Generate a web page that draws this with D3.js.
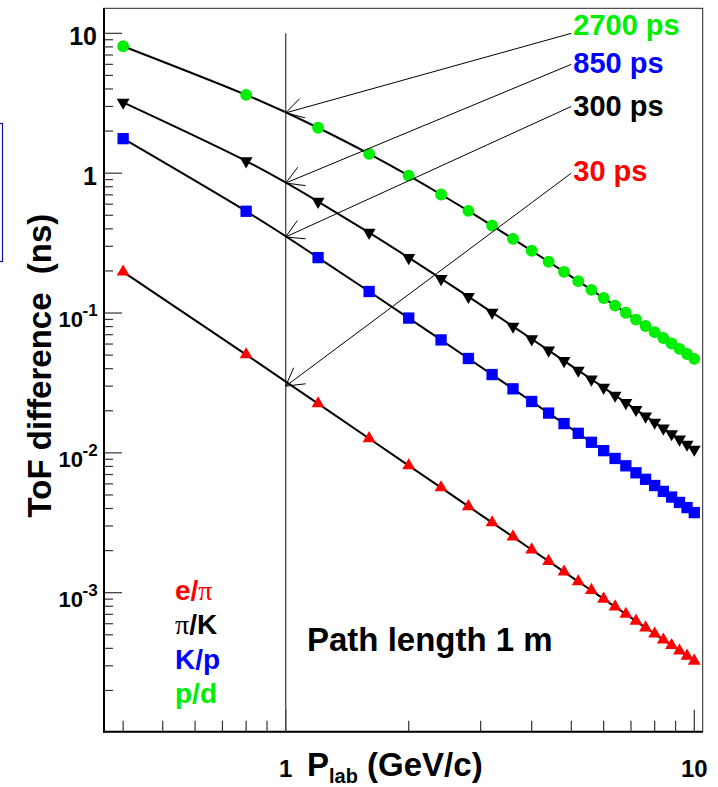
<!DOCTYPE html>
<html>
<head>
<meta charset="utf-8">
<style>
body { margin: 0; background: #fff; }
svg { display: block; font-family: "Liberation Sans", Arial, Helvetica, sans-serif; font-weight: bold; }
</style>
<script src="https://cdn.jsdelivr.net/npm/d3@7/dist/d3.min.js"></script>
</head>
<body>
<script>
// momentum points (GeV/c)
var momentum = [0.4, 0.8, 1.2, 1.6, 2.0, 2.4, 2.8, 3.2, 3.6, 4.0, 4.4, 4.8, 5.2,
                5.6, 6.0, 6.4, 6.8, 7.2, 7.6, 8.0, 8.4, 8.8, 9.2, 9.6, 10.0];

// ToF difference (ns)
var tofRed = [0.197, 0.0504, 0.0225, 0.01267, 0.00811, 0.00564, 0.00414, 0.00317, 0.00251,
              0.00203, 0.00168, 0.00141, 0.00120, 0.00104, 0.000902, 0.000793, 0.000703,
              0.000627, 0.000562, 0.000508, 0.000460, 0.000420, 0.000384, 0.000353, 0.000325];
var tofBlue = [1.766, 0.534, 0.249, 0.1425, 0.0920, 0.0642, 0.0473, 0.0363, 0.0287, 0.0233,
               0.01925, 0.01619, 0.0138, 0.0119, 0.01037, 0.00912, 0.00808, 0.00720, 0.00647,
               0.00584, 0.00530, 0.00483, 0.00442, 0.00406, 0.00374];
var tofBlack = [3.207, 1.2215, 0.627, 0.376, 0.2487, 0.176, 0.1309, 0.1010, 0.0802, 0.0652,
                0.0541, 0.0455, 0.0389, 0.0336, 0.0293, 0.02575, 0.02282, 0.02037, 0.01829,
                0.01652, 0.01499, 0.01366, 0.01250, 0.01149, 0.01059];
var tofGreen = [8.09, 3.63, 2.112, 1.375, 0.960, 0.704, 0.537, 0.4215, 0.339, 0.2786, 0.2327,
                0.1971, 0.1690, 0.1465, 0.1281, 0.1130, 0.1004, 0.0898, 0.0807, 0.0730, 0.0663,
                0.0605, 0.0554, 0.0509, 0.0470];

// arrows: text, tail at p=5, tip at p=1
var arrowLabels = ["2700 ps", "850 ps", "300 ps", "30 ps"];
var arrowTail = [10, 6, 3, 1];
var arrowTip = [2.7, 0.85, 0.35, 0.03];

var legendLabels = ["e/π", "π/K", "K/p", "p/d"];

var yTickLabels = [
  {v: 10, base: "10", exp: null},
  {v: 1, base: "1", exp: null},
  {v: 0.1, base: "10", exp: "-1"},
  {v: 0.01, base: "10", exp: "-2"},
  {v: 0.001, base: "10", exp: "-3"}
];
var xTickLabels = [{v: 1, t: "1"}, {v: 10, t: "10"}];

var W = 718, H = 787;
var padL = 104, padR = 702.7, padT = 8.3, padB = 731.7;

var svg = d3.select("body").append("svg")
  .attr("width", W).attr("height", H);

var x = d3.scaleLog().domain([0.3591, 10.486]).range([padL, padR]);
var y = d3.scaleLog().domain([1.014e-4, 15.1]).range([padB, padT]);

var RED = "#ff0000", BLUE = "#0000ff", GREEN = "#00ee00", BLACK = "#000000";

var series = [
  {values: tofRed, color: RED, marker: "up"},
  {values: tofBlue, color: BLUE, marker: "square"},
  {values: tofBlack, color: BLACK, marker: "down"},
  {values: tofGreen, color: GREEN, marker: "circle"}
];

// leftover legend box at the left edge
svg.append("rect")
  .attr("x", -20).attr("y", 123.5).attr("width", 22.5).attr("height", 138)
  .attr("fill", "none").attr("stroke", "#1010a0").attr("stroke-width", 1.2);

/* ---- ticks ---- */
var tickG = svg.append("g").attr("stroke", "#333").attr("stroke-width", 1.2);

var yTicks = [];
for (var k = -4; k <= 1; k++) {
  for (var m = 1; m <= 9; m++) {
    var v = m * Math.pow(10, k);
    if (v >= y.domain()[0] && v <= y.domain()[1]) yTicks.push({v: v, major: m === 1});
  }
}
tickG.selectAll("line.yt").data(yTicks).enter().append("line")
  .attr("class", "yt")
  .attr("x1", padL).attr("x2", function(d) { return padL + (d.major ? 18 : 9); })
  .attr("y1", function(d) { return y(d.v); }).attr("y2", function(d) { return y(d.v); });

var xTicks = [];
for (var k2 = -1; k2 <= 1; k2++) {
  for (var m2 = 1; m2 <= 9; m2++) {
    var v2 = m2 * Math.pow(10, k2);
    if (v2 >= x.domain()[0] && v2 <= x.domain()[1]) xTicks.push({v: v2, major: m2 === 1});
  }
}
tickG.selectAll("line.xt").data(xTicks).enter().append("line")
  .attr("class", "xt")
  .attr("x1", function(d) { return x(d.v); }).attr("x2", function(d) { return x(d.v); })
  .attr("y1", padB).attr("y2", function(d) { return padB - (d.major ? 22 : 11); });

/* ---- frame ---- */
svg.append("rect")
  .attr("x", padL).attr("y", padT).attr("width", padR - padL).attr("height", padB - padT)
  .attr("fill", "none").attr("stroke", "#222").attr("stroke-width", 1);
svg.append("line").attr("x1", padL).attr("x2", padL).attr("y1", padT).attr("y2", padB + 1)
  .attr("stroke", "#000").attr("stroke-width", 2);
svg.append("line").attr("x1", padL - 1).attr("x2", padR).attr("y1", padB).attr("y2", padB)
  .attr("stroke", "#000").attr("stroke-width", 2);

/* ---- tick labels ---- */
var yl = svg.append("g").attr("fill", "#000");
yTickLabels.forEach(function(t) {
  var ty = y(t.v);
  if (t.exp === null) {
    yl.append("text").attr("x", 97).attr("y", ty + 12)
      .attr("text-anchor", "end").attr("font-size", 25).text(t.base);
  } else {
    yl.append("text").attr("x", 83).attr("y", ty + 14)
      .attr("text-anchor", "end").attr("font-size", 22).text(t.base);
    yl.append("text").attr("x", 82.5).attr("y", ty + 3)
      .attr("text-anchor", "start").attr("font-size", 17).text(t.exp);
  }
});
xTickLabels.forEach(function(t) {
  svg.append("text").attr("x", x(t.v)).attr("y", 777)
    .attr("text-anchor", "middle").attr("font-size", 24).text(t.t);
});

/* ---- axis titles ---- */
svg.append("text")
  .attr("transform", "translate(51," + 365.5 + ") rotate(-90)")
  .attr("text-anchor", "middle").attr("font-size", 33)
  .attr("xml:space", "preserve")
  .text("ToF difference  (ns)");

var xt = svg.append("text").attr("x", 307).attr("y", 776).attr("font-size", 33);
xt.append("tspan").text("P");
xt.append("tspan").attr("font-size", 20).attr("dy", 7).text("lab");
xt.append("tspan").attr("dy", -7).text(" (GeV/c)");

/* ---- vertical line at 1 GeV/c ---- */
svg.append("line")
  .attr("x1", x(1)).attr("x2", x(1)).attr("y1", y(10)).attr("y2", padB)
  .attr("stroke", "#444").attr("stroke-width", 1.3);

/* ---- curves ---- */
var line = d3.line()
  .x(function(d) { return x(d[0]); })
  .y(function(d) { return y(d[1]); })
  .curve(d3.curveNatural);

series.forEach(function(s) {
  svg.append("path")
    .datum(momentum.map(function(p, i) { return [p, s.values[i]]; }))
    .attr("d", line)
    .attr("fill", "none").attr("stroke", "#000").attr("stroke-width", 2);
});

/* ---- markers ---- */
var symTri = d3.symbol().type(d3.symbolTriangle).size(72)();
var symSq = d3.symbol().type(d3.symbolSquare).size(128)();
var symCirc = d3.symbol().type(d3.symbolCircle).size(110)();

series.forEach(function(s) {
  svg.append("g").selectAll("path")
    .data(momentum.map(function(p, i) { return [p, s.values[i]]; }))
    .enter().append("path")
    .attr("d", s.marker === "square" ? symSq : (s.marker === "circle" ? symCirc : symTri))
    .attr("transform", function(d) {
      var t = "translate(" + x(d[0]) + "," + y(d[1]) + ")";
      return s.marker === "down" ? t + " rotate(180)" : t;
    })
    .attr("fill", s.color);
});

/* ---- arrows ---- */
var arrowColors = [GREEN, BLUE, BLACK, RED];
var labelDy = [1.7, 8.4, 10, 7.7];
var ag = svg.append("g").attr("stroke", "#000").attr("stroke-width", 1).attr("fill", "none");
arrowTip.forEach(function(tv, i) {
  var x0 = x(5), y0 = y(arrowTail[i]);
  var x1 = x(1), y1 = y(tv);
  ag.append("line").attr("x1", x0).attr("y1", y0).attr("x2", x1).attr("y2", y1);
  var ang = Math.atan2(y0 - y1, x0 - x1);
  [-Math.PI / 6, Math.PI / 6].forEach(function(da) {
    ag.append("line")
      .attr("x1", x1).attr("y1", y1)
      .attr("x2", x1 + 20 * Math.cos(ang + da))
      .attr("y2", y1 + 20 * Math.sin(ang + da));
  });
  svg.append("text")
    .attr("x", x0 + 2).attr("y", y0 + labelDy[i])
    .attr("font-size", 29).attr("fill", arrowColors[i])
    .text(arrowLabels[i]);
});

/* ---- legend ---- */
var legendColors = [RED, BLACK, BLUE, GREEN];
legendLabels.forEach(function(lbl, i) {
  var t = svg.append("text").attr("x", 175).attr("y", 600 + i * 34.4)
    .attr("font-size", 28).attr("fill", legendColors[i]);
  lbl.split(/(π)/).forEach(function(part) {
    if (!part) return;
    var ts = t.append("tspan").text(part);
    if (part === "π") ts.attr("font-family", "'Liberation Serif', 'DejaVu Serif', serif").attr("font-weight", "normal");
  });
});

svg.append("text").attr("x", 307).attr("y", 651).attr("font-size", 33)
  .text("Path length 1 m");
</script>
</body>
</html>
